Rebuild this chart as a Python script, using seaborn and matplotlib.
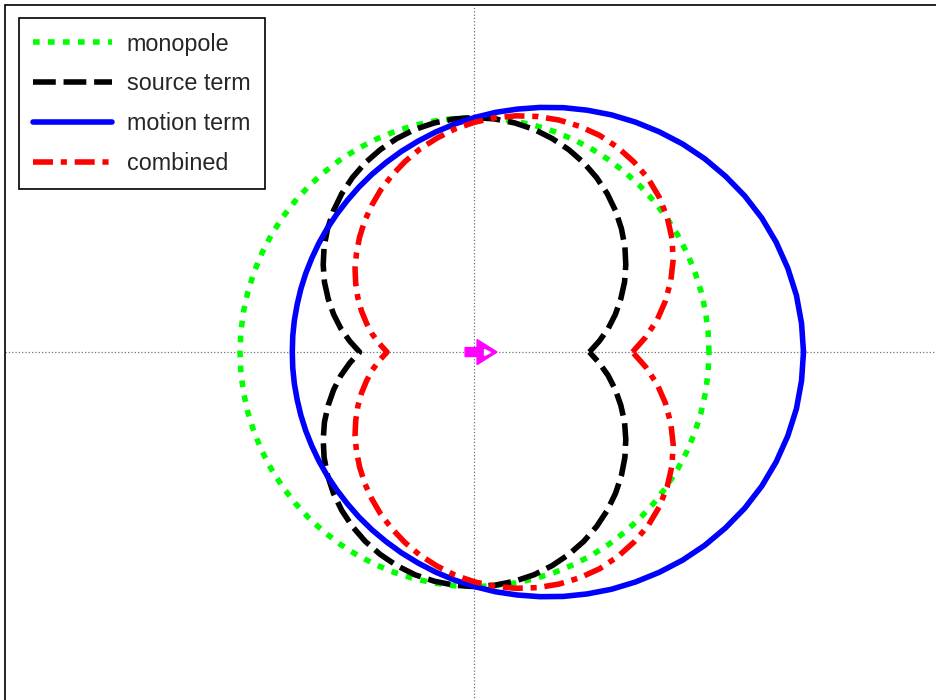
import numpy as np
import pandas as pd
import seaborn as sns
import matplotlib.pyplot as plt

# Directivity patterns, radius vs angle (5 deg steps, 0..355)
angle_deg = list(range(0, 360, 5))

monopole = [1.0] * 72

source_term = [0.490, 0.534, 0.579, 0.622, 0.664, 0.706, 0.745, 0.783, 0.818, 0.851, 0.881, 0.908,
               0.932, 0.952, 0.969, 0.983, 0.992, 0.998, 1.000, 0.998, 0.992, 0.983, 0.969, 0.952,
               0.932, 0.908, 0.881, 0.851, 0.818, 0.783, 0.745, 0.706, 0.664, 0.622, 0.579, 0.534,
               0.490, 0.534, 0.579, 0.622, 0.664, 0.706, 0.745, 0.783, 0.818, 0.851, 0.881, 0.908,
               0.932, 0.952, 0.969, 0.983, 0.992, 0.998, 1.000, 0.998, 0.992, 0.983, 0.969, 0.952,
               0.932, 0.908, 0.881, 0.851, 0.818, 0.783, 0.745, 0.706, 0.664, 0.622, 0.579, 0.534]

motion_term = [1.403, 1.400, 1.394, 1.383, 1.369, 1.352, 1.331, 1.307, 1.282, 1.255, 1.226, 1.197,
               1.168, 1.138, 1.109, 1.080, 1.052, 1.026, 1.000, 0.976, 0.953, 0.931, 0.911, 0.892,
               0.875, 0.859, 0.844, 0.831, 0.820, 0.810, 0.801, 0.794, 0.788, 0.783, 0.780, 0.778,
               0.777, 0.778, 0.780, 0.783, 0.788, 0.794, 0.801, 0.810, 0.820, 0.831, 0.844, 0.859,
               0.875, 0.892, 0.911, 0.931, 0.953, 0.976, 1.000, 1.026, 1.052, 1.080, 1.109, 1.138,
               1.168, 1.197, 1.226, 1.255, 1.282, 1.307, 1.331, 1.352, 1.369, 1.383, 1.394, 1.400]

combined = [0.674, 0.733, 0.791, 0.843, 0.891, 0.935, 0.972, 1.003, 1.028, 1.047, 1.058, 1.065,
            1.067, 1.062, 1.053, 1.040, 1.023, 1.003, 0.980, 0.955, 0.926, 0.897, 0.865, 0.832,
            0.799, 0.764, 0.729, 0.693, 0.657, 0.622, 0.585, 0.549, 0.513, 0.477, 0.443, 0.407,
            0.373, 0.407, 0.443, 0.477, 0.513, 0.549, 0.585, 0.622, 0.657, 0.693, 0.729, 0.764,
            0.799, 0.832, 0.865, 0.897, 0.926, 0.955, 0.980, 1.003, 1.023, 1.040, 1.053, 1.062,
            1.067, 1.065, 1.058, 1.047, 1.028, 1.003, 0.972, 0.935, 0.891, 0.843, 0.791, 0.733]

labels = ['monopole', 'source term', 'motion term', 'combined']
colors = ['#00ff00', 'black', 'blue', 'red']
styles = [(0, (1.2, 1.5)), (0, (4.1, 1.4)), '-', (0, (3.6, 1.4, 1.1, 1.4))]

sns.set_style('white')
plt.rcParams['font.family'] = ['Liberation Sans', 'DejaVu Sans']

fig = plt.figure(figsize=(9.37, 7.0), dpi=100)
ppu = 234.5  # pixels per data unit
ax = fig.add_axes([5.5 / 937, (700 - (5 + 2.98 * ppu)) / 700, 4 * ppu / 937, 2.98 * ppu / 700])

ax.axhline(0, color='0.45', ls=':', lw=0.9, zorder=1)
ax.axvline(0, color='0.45', ls=':', lw=0.9, zorder=1)

theta = np.deg2rad(angle_deg + [360])
for name, radii, c, ls in zip(labels, [monopole, source_term, motion_term, combined], colors, styles):
    r = np.array(radii + radii[:1])
    df = pd.DataFrame({'x': r * np.cos(theta), 'y': r * np.sin(theta)})
    sns.lineplot(data=df, x='x', y='y', sort=False, estimator=None, ax=ax,
                 color=c, lw=4, linestyle=ls, label=name, zorder=3)

# direction of motion
ax.arrow(-0.04, 0, 0.136, 0, width=0.038, head_width=0.107, head_length=0.085,
         length_includes_head=True, color='magenta', zorder=5)
ax.plot([0.052], [0], marker='>', color='white', ms=4, zorder=6)

ax.set_xlim(-2, 2)
ax.set_ylim(-1.5, 1.48)
ax.set_xticks([])
ax.set_yticks([])
ax.set_xlabel('')
ax.set_ylabel('')
for s in ax.spines.values():
    s.set_color('black')
    s.set_linewidth(1.2)

leg = ax.legend(loc='upper left', fontsize=16.8, frameon=True, fancybox=False, framealpha=1,
                edgecolor='black', borderaxespad=0.56, borderpad=0.62, handlelength=3.4,
                handletextpad=0.62, labelspacing=0.72)
leg.get_frame().set_linewidth(1.2)

plt.savefig('out.png', dpi=100)
plt.close()
